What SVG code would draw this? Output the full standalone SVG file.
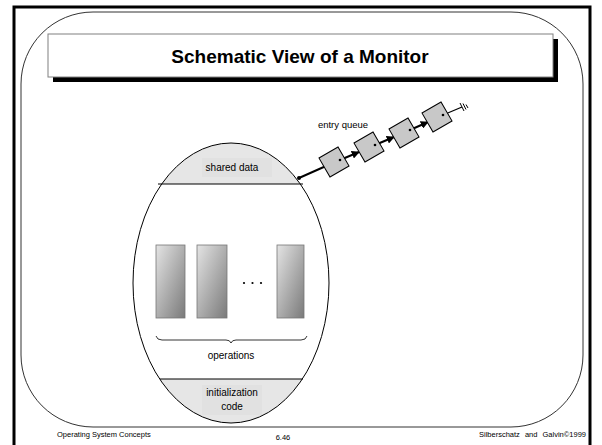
<svg xmlns="http://www.w3.org/2000/svg" width="602" height="445" viewBox="0 0 602 445">
<defs>
<style>
.t{font-family:"Liberation Sans",Arial,sans-serif;fill:#000}
.lbl{font-size:10px;text-anchor:middle}
.foot{font-size:7.5px}
.op{stroke:#777;stroke-width:0.8}
.qbox{fill:#c8c8c8;stroke:#000;stroke-width:1}
.conn{stroke:#000;stroke-width:2;fill:none}
</style>
<linearGradient id="g" x1="0" y1="0" x2="1" y2="1">
<stop offset="0" stop-color="#e4e4e4"/>
<stop offset="1" stop-color="#7a7a7a"/>
</linearGradient>
<marker id="ah" viewBox="0 0 10 10" refX="9" refY="5" markerWidth="4" markerHeight="4" orient="auto">
<path d="M0,0 L10,5 L0,10 z" fill="#000"/>
</marker>
<clipPath id="ell"><ellipse cx="231" cy="283" rx="98" ry="140"/></clipPath>
</defs>
<rect width="602" height="445" fill="#fff"/>
<path d="M14,447 V7 H590 V447" fill="none" stroke="#000" stroke-width="3"/>
<rect x="21" y="12" width="562" height="415" rx="72" ry="72" fill="none" stroke="#333" stroke-width="1"/>
<g id="title">
<rect x="53" y="39" width="505" height="43" fill="#000"/>
<rect x="48" y="34" width="505" height="43" fill="#fff" stroke="#808080" stroke-width="1"/>
<text class="t" x="300" y="63" font-size="19" font-weight="bold" text-anchor="middle">Schematic View of a Monitor</text>
</g>
<g id="monitor">
<g clip-path="url(#ell)">
<rect x="120" y="130" width="230" height="54" fill="#e6e6e6"/>
<rect x="120" y="379" width="230" height="60" fill="#e6e6e6"/>
</g>
<ellipse cx="231" cy="283" rx="98" ry="140" fill="none" stroke="#000" stroke-width="1"/>
<line x1="158" y1="184" x2="303" y2="184" stroke="#000" stroke-width="1"/>
<line x1="160" y1="379" x2="303" y2="379" stroke="#000" stroke-width="1"/>
</g>
<g id="shared-data">
<rect x="202" y="158" width="70" height="19" fill="#e1e1e1"/>
<text class="t lbl" x="232" y="171">shared data</text>
</g>
<g id="operations">
<rect class="op" x="156" y="245" width="29" height="73" fill="url(#g)"/>
<rect class="op" x="197" y="245" width="30" height="73" fill="url(#g)"/>
<rect class="op" x="277" y="245" width="27" height="73" fill="url(#g)"/>
<circle cx="244" cy="283" r="1.1" fill="#000"/>
<circle cx="252.5" cy="283" r="1.1" fill="#000"/>
<circle cx="261" cy="283" r="1.1" fill="#000"/>
<path d="M156,336 Q157,340 162,340 L226,340 Q230,340 231,343 Q232,340 236,340 L301,340 Q306,340 307,336" fill="none" stroke="#000" stroke-width="0.8"/>
<text class="t lbl" x="231" y="359">operations</text>
</g>
<g id="init-code">
<rect x="202" y="385" width="60" height="30" fill="#e1e1e1"/>
<text class="t lbl" x="232" y="396">initialization</text>
<text class="t lbl" x="232" y="410">code</text>
</g>
<g id="connectors">
<circle cx="299" cy="178" r="2" fill="#000"/>
<line class="conn" x1="299" y1="178" x2="326" y2="166"/>
<line class="conn" x1="340" y1="160" x2="359" y2="152" marker-end="url(#ah)"/>
<line class="conn" x1="375" y1="145" x2="394" y2="137" marker-end="url(#ah)"/>
<line class="conn" x1="410" y1="130" x2="428" y2="122" marker-end="url(#ah)"/>
<polyline points="443,115 462,107" fill="none" stroke="#000" stroke-width="1.3"/>
<g stroke="#000" stroke-width="1">
<line x1="460" y1="103" x2="464" y2="111"/>
<line x1="463" y1="103.5" x2="466" y2="109.5"/>
<line x1="466" y1="104.5" x2="468" y2="108"/>
</g>
</g>
<g id="entry-queue">
<text class="t" x="343" y="128" font-size="9.5" text-anchor="middle">entry queue</text>
<rect class="qbox" x="-11" y="-11" width="22" height="22" transform="translate(334,162) rotate(-30)"/>
<rect class="qbox" x="-11" y="-11" width="22" height="22" transform="translate(369,147) rotate(-30)"/>
<rect class="qbox" x="-11" y="-11" width="22" height="22" transform="translate(404,133) rotate(-30)"/>
<rect class="qbox" x="-11" y="-11" width="22" height="22" transform="translate(437,117) rotate(-30)"/>
<circle cx="340" cy="160" r="1.3" fill="#000"/>
<circle cx="375" cy="145" r="1.3" fill="#000"/>
<circle cx="410" cy="130" r="1.3" fill="#000"/>
<circle cx="443" cy="115" r="1.3" fill="#000"/>
</g>
<g id="footer">
<text class="t foot" x="57" y="437">Operating System Concepts</text>
<text class="t foot" x="283" y="440" text-anchor="middle">6.46</text>
<text class="t foot" x="586" y="437" text-anchor="end" font-size="8" word-spacing="3">Silberschatz and Galvin©1999</text>
</g>
</svg>
